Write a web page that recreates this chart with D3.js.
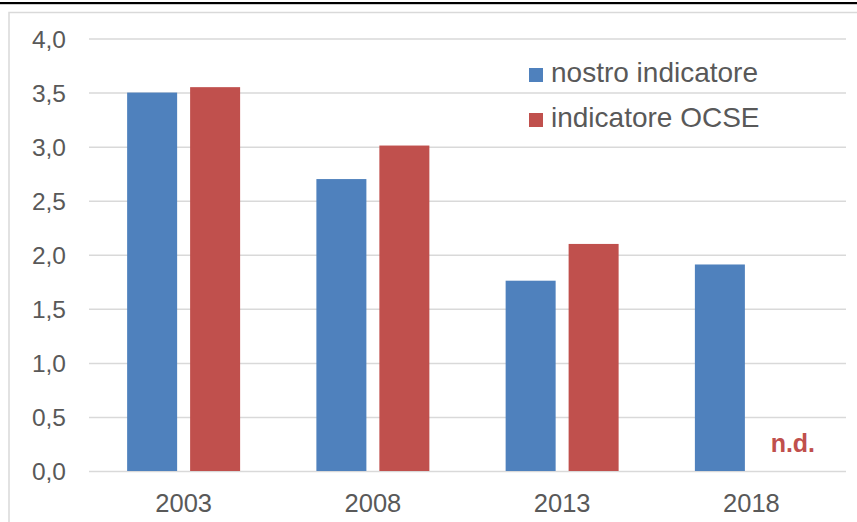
<!DOCTYPE html>
<html>
<head>
<meta charset="utf-8">
<script src="https://cdn.jsdelivr.net/npm/d3@7"></script>
<style>
  html, body { margin: 0; padding: 0; background: #fff; overflow: hidden; }
  svg { display: block; font-family: "Liberation Sans", Arial, sans-serif; }
</style>
</head>
<body>
<svg id="chart" width="857" height="522"></svg>
<script>
// Years on the category axis
const years = ["2003", "2008", "2013", "2018"];
// Series names (legend order)
const seriesNames = ["nostro indicatore", "indicatore OCSE"];
// Values per year; null = not available
const nostroValues = [3.5, 2.7, 1.76, 1.91];
const ocseValues = [3.55, 3.01, 2.10, null];
// Value-axis ticks
const yTicks = [0, 0.5, 1, 1.5, 2, 2.5, 3, 3.5, 4];
const naLabel = "n.d.";

const colors = { "nostro indicatore": "#4f81bd", "indicatore OCSE": "#c0504d" };
const fmt = v => d3.format(".1f")(v).replace(".", ",");

const svg = d3.select("#chart");
const W = 857, H = 522;
const plot = { left: 89, right: 846, top: 38.5, bottom: 471 };

// Cut-off rule above the chart frame
svg.append("rect").attr("x", 0).attr("y", 2).attr("width", W).attr("height", 2.2).attr("fill", "#000");

// Chart frame
svg.append("rect")
  .attr("x", 9).attr("y", 12.5)
  .attr("width", W + 20).attr("height", H + 20)
  .attr("fill", "none").attr("stroke", "#d9d9d9").attr("stroke-width", 1.5);

const y = d3.scaleLinear().domain([0, 4]).range([plot.bottom, plot.top]);
const x0 = d3.scaleBand().domain(years).range([plot.left, plot.right]).paddingInner(0.403).paddingOuter(0.2015);
const x1 = d3.scaleBand().domain(seriesNames).range([0, x0.bandwidth()]).paddingInner(0.206).paddingOuter(0);

// Gridlines
const yAxis = d3.axisLeft(y).tickValues(yTicks).tickFormat(fmt)
  .tickSize(-(plot.right - plot.left)).tickPadding(23);
const gy = svg.append("g").attr("transform", `translate(${plot.left},0)`).call(yAxis);
gy.select(".domain").remove();
gy.selectAll(".tick line").attr("stroke", "#d9d9d9").attr("stroke-width", 1.5);
gy.selectAll(".tick text").attr("fill", "#595959").attr("font-size", 24.5).attr("dy", "0.36em");

// Bars
const rows = years.map((yr, i) => ({
  year: yr,
  values: [
    { name: seriesNames[0], value: nostroValues[i] },
    { name: seriesNames[1], value: ocseValues[i] }
  ]
}));

const groups = svg.append("g").selectAll("g").data(rows).join("g")
  .attr("transform", d => `translate(${x0(d.year)},0)`);

groups.selectAll("rect").data(d => d.values.filter(v => v.value !== null)).join("rect")
  .attr("x", d => x1(d.name))
  .attr("width", x1.bandwidth())
  .attr("y", d => y(d.value))
  .attr("height", d => y(0) - y(d.value))
  .attr("fill", d => colors[d.name]);

// Not-available marker
groups.selectAll("text.na").data(d => d.values.filter(v => v.value === null)).join("text")
  .attr("class", "na")
  .attr("x", d => x1(d.name) + x1.bandwidth() / 2 + 10)
  .attr("y", 452)
  .attr("text-anchor", "middle")
  .attr("font-weight", "bold")
  .attr("font-size", 25)
  .attr("fill", "#c0504d")
  .text(naLabel);

// Category axis labels
const xAxis = d3.axisBottom(x0).tickSize(0).tickPadding(0);
const gx = svg.append("g").attr("transform", `translate(0,${plot.bottom})`).call(xAxis);
gx.select(".domain").remove();
gx.selectAll(".tick text").attr("fill", "#595959").attr("font-size", 25.5).attr("dy", "1.6em");

// Legend
const legend = svg.append("g").attr("transform", "translate(529,68)");
const items = legend.selectAll("g").data(seriesNames).join("g")
  .attr("transform", (d, i) => `translate(0,${i * 45})`);
items.append("rect").attr("width", 14).attr("height", 14).attr("fill", d => colors[d]);
items.append("text").attr("x", 22).attr("y", 14).attr("font-size", 28).attr("fill", "#595959").text(d => d);
</script>
</body>
</html>
